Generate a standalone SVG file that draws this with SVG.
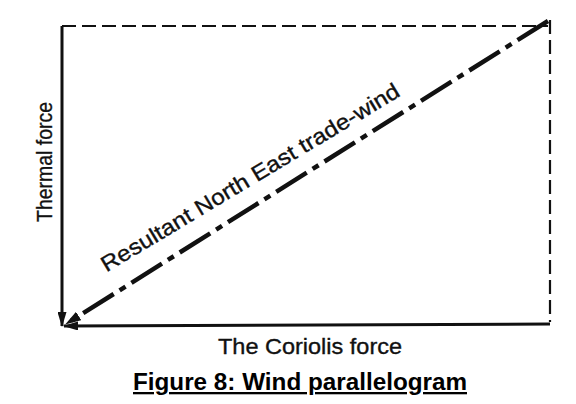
<svg xmlns="http://www.w3.org/2000/svg" width="576" height="404" viewBox="0 0 576 404">
<defs>
<style>
.solid{stroke:#111;stroke-width:3;fill:none}
.dash{stroke:#111;stroke-width:2.2;fill:none;stroke-dasharray:14 6}
.dashdot{stroke:#111;stroke-width:4.5;fill:none;stroke-dasharray:36 7 7 7}
.lbl{font-family:"Liberation Sans",Arial,sans-serif;font-size:22px;fill:#111;stroke:#111;stroke-width:0.35}
.cap{font-family:"Liberation Sans",Arial,sans-serif;font-size:23px;font-weight:bold;fill:#000}
</style>
<marker id="ah" viewBox="0 0 15 9" refX="14" refY="4.5" markerWidth="15" markerHeight="9" markerUnits="userSpaceOnUse" orient="auto">
<path d="M0,0 L15,4.5 L0,9 Z" fill="#111"/>
</marker>
<marker id="ahd" viewBox="0 0 16 10" refX="15" refY="5" markerWidth="16" markerHeight="10" markerUnits="userSpaceOnUse" orient="auto">
<path d="M0,0 L16,5 L0,10 Z" fill="#111"/>
</marker>
</defs>
<rect width="576" height="404" fill="#fff"/>
<g id="connectors">
<path class="dash" d="M62,26 L548,26"/>
<path class="dash" d="M550,20 L550,322"/>
<path class="solid" d="M62,26 L62,326" marker-end="url(#ah)"/>
<path class="solid" d="M550,324 L64,326" marker-end="url(#ah)"/>
<path class="dashdot" d="M548,21 L66,324" marker-end="url(#ahd)"/>
</g>
<g id="thermal">
<text class="lbl" transform="translate(52,162) rotate(-90)" text-anchor="middle" textLength="120" lengthAdjust="spacingAndGlyphs">Thermal force</text>
</g>
<g id="resultant">
<text class="lbl" transform="translate(254,184) rotate(-31)" text-anchor="middle" textLength="344" lengthAdjust="spacingAndGlyphs">Resultant North East  trade-wind</text>
</g>
<g id="coriolis">
<text class="lbl" x="310" y="354" text-anchor="middle" textLength="184" lengthAdjust="spacingAndGlyphs">The Coriolis force</text>
</g>
<g id="caption">
<text class="cap" x="300" y="390" text-anchor="middle" text-decoration="underline" textLength="334" lengthAdjust="spacingAndGlyphs">Figure 8: Wind parallelogram</text>
</g>
</svg>
